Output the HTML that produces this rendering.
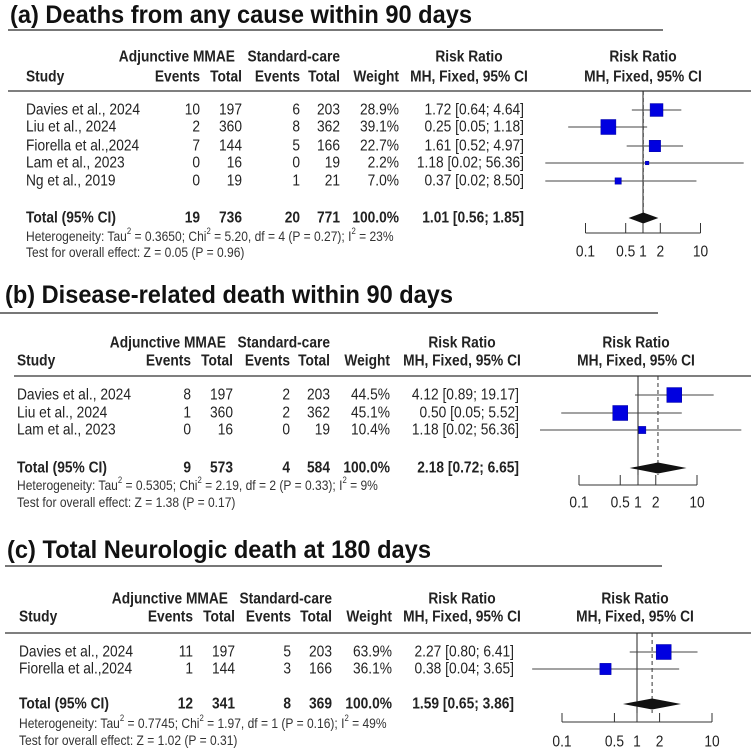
<!DOCTYPE html>
<html><head><meta charset="utf-8"><style>
html,body{margin:0;padding:0;background:#fff;}
svg{display:block;font-family:"Liberation Sans",Arial,sans-serif;}
.t{font-size:16px;fill:#222;}
.b{font-weight:bold;}
.h{font-size:14px;fill:#333;}
.ttl{font-size:25px;font-weight:bold;fill:#111;}
</style></head><body>
<svg id="c" width="751" height="749" viewBox="0 0 751 749" xmlns="http://www.w3.org/2000/svg"></svg>
<script>
// Panel A data
const aStudies=["Davies et al., 2024","Liu et al., 2024","Fiorella et al.,2024","Lam et al., 2023","Ng et al., 2019"];
const aEv1=[10,2,7,0,0];const aN1=[197,360,144,16,19];
const aEv2=[6,8,5,0,1];const aN2=[203,362,166,19,21];
const aW=[28.9,39.1,22.7,2.2,7.0];
const aRR=[1.72,0.25,1.61,1.18,0.37];const aLo=[0.64,0.05,0.52,0.02,0.02];const aHi=[4.64,1.18,4.97,56.36,8.50];
const aTot=[19,736,20,771];const aPool=[1.01,0.56,1.85];
// Panel B data
const bStudies=["Davies et al., 2024","Liu et al., 2024","Lam et al., 2023"];
const bEv1=[8,1,0];const bN1=[197,360,16];const bEv2=[2,2,0];const bN2=[203,362,19];
const bW=[44.5,45.1,10.4];
const bRR=[4.12,0.50,1.18];const bLo=[0.89,0.05,0.02];const bHi=[19.17,5.52,56.36];
const bTot=[9,573,4,584];const bPool=[2.18,0.72,6.65];
// Panel C data
const cStudies=["Davies et al., 2024","Fiorella et al.,2024"];
const cEv1=[11,1];const cN1=[197,144];const cEv2=[5,3];const cN2=[203,166];
const cW=[63.9,36.1];
const cRR=[2.27,0.38];const cLo=[0.80,0.04];const cHi=[6.41,3.65];
const cTot=[12,341,8,369];const cPool=[1.59,0.65,3.86];
const tickVals=[0.1,0.5,1,2,10];
const tickLabels=["0.1","0.5","1","2","10"];

const NS="http://www.w3.org/2000/svg";
const svg=document.getElementById('c');
const allText=[];
function mk(tag,attrs,parent){const e=document.createElementNS(NS,tag);for(const k in attrs)e.setAttribute(k,attrs[k]);(parent||svg).appendChild(e);return e;}
function txt(p,x,y,s,cls,anchor){const t=mk('text',{x:x,y:y,class:cls,'text-anchor':anchor||'start','dominant-baseline':'central'},p);t.setAttribute('xml:space','preserve');t.textContent=s;allText.push(t);return t;}
function f2(v){return v.toFixed(2);}
function ci(rr,lo,hi){const h=f2(hi);return f2(rr)+" ["+f2(lo)+";"+(h.length<5?"  ":" ")+h+"]";}

function panel(P){
  const g=mk('g',{});
  
  
  const tt=txt(g,P.titleX,P.titleY,P.title,'ttl');
  tt.dataset.tl=P.titleW;
  
  
  const ul=mk('line',{x1:P.ulX1,x2:P.ulX2,y1:P.ulY,y2:P.ulY,stroke:'#777','stroke-width':2},g);
  
  
  const C=P.cols;
  const hg=mk('g',{},g);
  
  
  txt(hg,C[1]-7,P.h1,"Adjunctive MMAE",'t b','end');
  txt(hg,C[3],P.h1,"Standard-care",'t b','end');
  txt(hg,P.ciHead,P.h1,"Risk Ratio",'t b','middle');
  txt(hg,P.fHead,P.h1,"Risk Ratio",'t b','middle');
  txt(hg,P.studyX,P.h2,"Study",'t b');
  txt(hg,C[0],P.h2,"Events",'t b','end');
  txt(hg,C[1],P.h2,"Total",'t b','end');
  txt(hg,C[2],P.h2,"Events",'t b','end');
  txt(hg,C[3],P.h2,"Total",'t b','end');
  txt(hg,C[4],P.h2,"Weight",'t b','end');
  txt(hg,P.ciHead,P.h2,"MH, Fixed, 95% CI",'t b','middle');
  txt(hg,P.fHead,P.h2,"MH, Fixed, 95% CI",'t b','middle');
  const hl=mk('line',{x1:P.lineX1,x2:751,y1:P.lineY,y2:P.lineY,stroke:'#333','stroke-width':1.2},g);
  
  
  const X=v=>P.x1+Math.log10(v)*P.k;
  const maxW=Math.max(...P.w);
  const rl=mk('line',{x1:X(1),x2:X(1),y1:P.lineY,y2:P.axisTop,stroke:'#222','stroke-width':1},g);
  
  
  const dl=mk('line',{x1:X(P.pool[0]),x2:X(P.pool[0]),y1:P.lineY,y2:P.axisTop,stroke:'#333','stroke-width':1,'stroke-dasharray':'4,3'},g);
  
  
  for(let i=0;i<P.studies.length;i++){
    const y=P.rowY[i];
    const r=mk('g',{},g);
    
    
    txt(r,P.studyX,y,P.studies[i],'t');
    txt(r,C[0],y,String(P.ev1[i]),'t','end');
    txt(r,C[1],y,String(P.n1[i]),'t','end');
    txt(r,C[2],y,String(P.ev2[i]),'t','end');
    txt(r,C[3],y,String(P.n2[i]),'t','end');
    txt(r,C[4],y,P.w[i].toFixed(1)+"%",'t','end');
    txt(r,C[5],y,ci(P.rr[i],P.lo[i],P.hi[i]),'t','end');
    const cl=mk('line',{x1:Math.max(X(P.lo[i]),P.clipL),x2:Math.min(X(P.hi[i]),751),y1:y,y2:y,stroke:'#444','stroke-width':1},r);
    
    
    const s=15*Math.sqrt(P.w[i]/maxW);
    const sq=mk('rect',{x:X(P.rr[i])-s/2,y:y-s/2,width:s,height:s,fill:'#0000e0',stroke:'#0000a0','stroke-width':0.5},r);
    
    
  }
  const tg=mk('g',{},g);
  
  
  txt(tg,P.studyX,P.totY,"Total (95% CI)",'t b');
  for(let j=0;j<4;j++)txt(tg,C[j],P.totY,String(P.tot[j]),'t b','end');
  txt(tg,C[4],P.totY,"100.0%",'t b','end');
  txt(tg,C[5],P.totY,ci(P.pool[0],P.pool[1],P.pool[2]),'t b','end');
  const px=X(P.pool[0]),pl=X(P.pool[1]),ph=X(P.pool[2]),py=P.totY;
  const dm=mk('polygon',{points:`${pl},${py} ${px},${py-5.5} ${ph},${py} ${px},${py+5.5}`,fill:'#111'},tg);
  
  
  const ht=txt(g,P.studyX,P.hetY,"",'h');
  
  
  ht.innerHTML=P.het;
  const ot=txt(g,P.studyX,P.testY,P.test,'h');
  
  
  const ax=mk('g',{},g);
  
  
  mk('line',{x1:X(tickVals[0]),x2:X(tickVals[tickVals.length-1]),y1:P.axisY,y2:P.axisY,stroke:'#333','stroke-width':1},ax);
  tickVals.forEach((v,i)=>{
    mk('line',{x1:X(v),x2:X(v),y1:P.axisY,y2:P.axisTop,stroke:'#333','stroke-width':1},ax);
    const l=txt(ax,X(v),P.labY,tickLabels[i],'t','middle');
    
    
  });
}
panel({name:'panel-a',title:"(a) Deaths from any cause within 90 days",titleX:10,titleY:15,titleW:462,ulX1:8,ulX2:663,ulY:30,
 h1:57,h2:77,lineY:91,lineX1:8,studyX:26,cols:[200,242,300,340,399,524],ciHead:469,fHead:643,
 studies:aStudies,ev1:aEv1,n1:aN1,ev2:aEv2,n2:aN2,w:aW,rr:aRR,lo:aLo,hi:aHi,tot:aTot,pool:aPool,
 rowY:[110,127,146,163,181],totY:218,hetY:236,testY:252,
 het:'Heterogeneity: Tau<tspan dy="-5" font-size="9">2</tspan><tspan dy="5"> = 0.3650; Chi</tspan><tspan dy="-5" font-size="9">2</tspan><tspan dy="5"> = 5.20, df = 4 (P = 0.27); I</tspan><tspan dy="-5" font-size="9">2</tspan><tspan dy="5"> = 23%</tspan>',
 test:"Test for overall effect: Z = 0.05 (P = 0.96)",
 x1:643,k:57.5,clipL:545,axisY:233,axisTop:223,labY:252});
panel({name:'panel-b',title:"(b) Disease-related death within 90 days",titleX:5,titleY:295,titleW:448,ulX1:0,ulX2:658,ulY:313,
 h1:343,h2:361,lineY:376,lineX1:14,studyX:17,cols:[191,233,290,330,390,519],ciHead:462,fHead:636,
 studies:bStudies,ev1:bEv1,n1:bN1,ev2:bEv2,n2:bN2,w:bW,rr:bRR,lo:bLo,hi:bHi,tot:bTot,pool:bPool,
 rowY:[395,413,430],totY:468,hetY:485,testY:502,
 het:'Heterogeneity: Tau<tspan dy="-5" font-size="9">2</tspan><tspan dy="5"> = 0.5305; Chi</tspan><tspan dy="-5" font-size="9">2</tspan><tspan dy="5"> = 2.19, df = 2 (P = 0.33); I</tspan><tspan dy="-5" font-size="9">2</tspan><tspan dy="5"> = 9%</tspan>',
 test:"Test for overall effect: Z = 1.38 (P = 0.17)",
 x1:638,k:59,clipL:540,axisY:485,axisTop:475,labY:503});
panel({name:'panel-c',title:"(c) Total Neurologic death at 180 days",titleX:7,titleY:550,titleW:424,ulX1:5,ulX2:662,ulY:566,
 h1:599,h2:617,lineY:633,lineX1:5,studyX:19,cols:[193,235,291,332,392,514],ciHead:462,fHead:635,
 studies:cStudies,ev1:cEv1,n1:cN1,ev2:cEv2,n2:cN2,w:cW,rr:cRR,lo:cLo,hi:cHi,tot:cTot,pool:cPool,
 rowY:[652,669],totY:704,hetY:723,testY:740,
 het:'Heterogeneity: Tau<tspan dy="-5" font-size="9">2</tspan><tspan dy="5"> = 0.7745; Chi</tspan><tspan dy="-5" font-size="9">2</tspan><tspan dy="5"> = 1.97, df = 1 (P = 0.16); I</tspan><tspan dy="-5" font-size="9">2</tspan><tspan dy="5"> = 49%</tspan>',
 test:"Test for overall effect: Z = 1.02 (P = 0.31)",
 x1:637,k:75,clipL:530,axisY:722,axisTop:713,labY:742});
allText.forEach(t=>{
  let w;
  if(t.dataset.tl){w=+t.dataset.tl;}
  else{w=t.getComputedTextLength()*0.86;}
  if(w>0){t.setAttribute('textLength',w);t.setAttribute('lengthAdjust','spacingAndGlyphs');}
});
</script>
</body></html>
